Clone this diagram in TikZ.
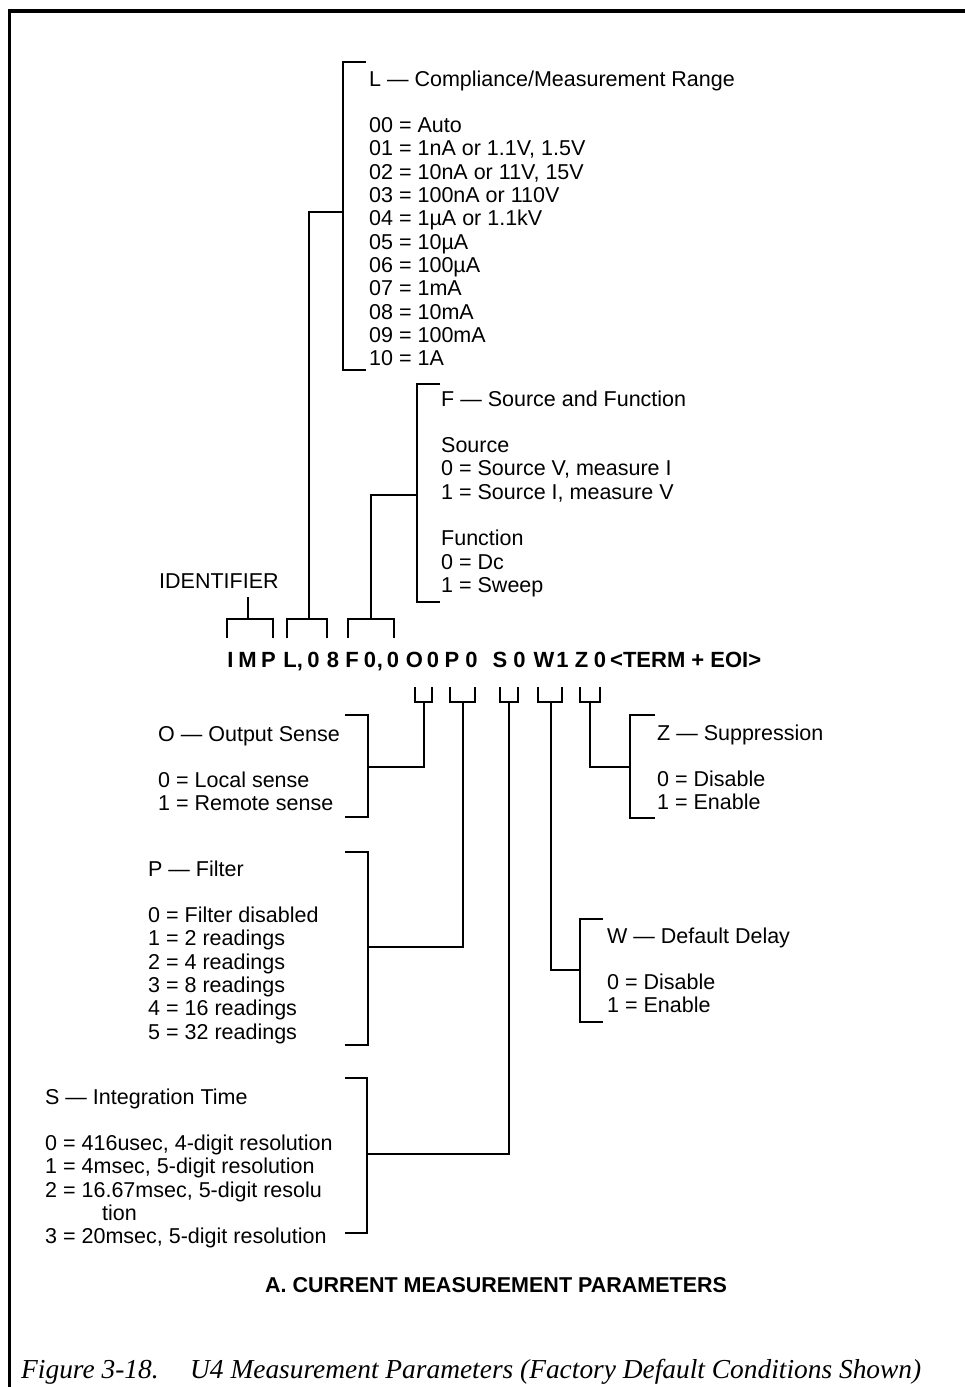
\documentclass[tikz,border=0pt]{standalone}
\usepackage{fontspec}
\setmainfont{Liberation Sans}
\newfontfamily\cmdfont{Liberation Sans}
\newfontfamily\capfont{Liberation Serif}
\newcommand\fs{\fontsize{21.5}{23.3}\selectfont}
\newcommand\cma{,}
\newcommand\lines[4]{\foreach \t [count=\i from 0] in {#4}{\node[txt] (#1-\i) at (#2,{#3+\i*23.3}) {\t};}}
\begin{document}
\begin{tikzpicture}[x=1pt,y=-1pt,
  txt/.style={font=\fs, inner sep=0pt, anchor=base west},
  cmd/.style={font=\cmdfont\fontsize{22}{22}\selectfont\bfseries, inner sep=0pt},
  br/.style={line width=2.6pt, line cap=butt, line join=miter},
  frame/.style={line width=3.3pt}]
\useasboundingbox (0,0) rectangle (965,1387);
% frame
\draw[frame] (9.5,1387) -- (9.5,11) -- (965,11);

% L block
\node[txt] (Lh) at (369,86) {L — Compliance/Measurement Range};
\lines{L}{369}{132.6}{{00 = Auto},{01 = 1nA or 1.1V, 1.5V},{02 = 10nA or 11V, 15V},{03 = 100nA or 110V},{04 = 1µA or 1.1kV},{05 = 10µA},{06 = 100µA},{07 = 1mA},{08 = 10mA},{09 = 100mA},{10 = 1A}}
% F block
\node[txt] (Fh) at (441,406) {F — Source and Function};
\lines{Fs}{441}{452.6}{{Source},{0 = Source V, measure I},{1 = Source I, measure V}}
\lines{Ff}{441}{545.8}{{Function},{0 = Dc},{1 = Sweep}}
% identifier
\node[txt] (idf) at (159,588) {IDENTIFIER};
% O block
\node[txt] (Oh) at (158,741) {O — Output Sense};
\lines{O}{158}{787.6}{{0 = Local sense},{1 = Remote sense}}
% P block
\node[txt] (Ph) at (148,876) {P — Filter};
\lines{P}{148}{922.6}{{0 = Filter disabled},{1 = 2 readings},{2 = 4 readings},{3 = 8 readings},{4 = 16 readings},{5 = 32 readings}}
% S block
\node[txt] (Sh) at (45,1104) {S — Integration Time};
\lines{S}{45}{1150.6}{{0 = 416usec, 4-digit resolution},{1 = 4msec, 5-digit resolution},{2 = 16.67msec, 5-digit resolu},{\hspace{57pt}tion},{3 = 20msec, 5-digit resolution}}
% Z block
\node[txt] (Zh) at (657,740) {Z — Suppression};
\lines{Z}{657}{786.6}{{0 = Disable},{1 = Enable}}
% W block
\node[txt] (Wh) at (607,943) {W — Default Delay};
\lines{W}{607}{989.6}{{0 = Disable},{1 = Enable}}

% command string
\foreach \c/\x [count=\i] in {I/230.5, M/247.5, P/268.5, L/290, \cma/300, 0/313.5, 8/333, F/352, 0/370, \cma/380, 0/393, O/414.5, 0/433, P/452, 0/471.5, S/500, 0/519.5, W/544, 1/562.5, Z/581.5, 0/600}
  \node[cmd, anchor=base] (c\i) at (\x,667) {\c};
\node[cmd, anchor=base west] (term) at (610,667) {<TERM + EOI>};

% upper brackets
\draw[br] (227,638) -- (227,619) -- (273,619) -- (273,638);
\draw[br] (287,638) -- (287,619) -- (327,619) -- (327,638);
\draw[br] (348,638) -- (348,619) -- (394,619) -- (394,638);
\draw[br] (248,619) -- (248,597);
% L connector and bracket
\draw[br] (309,619) |- (343,212);
\draw[br] (366,62) -| (343,370) -- (366,370);
% F connector and bracket
\draw[br] (371,619) |- (417,495);
\draw[br] (440,384) -| (417,602) -- (440,602);

% lower brackets
\draw[br] (415,687) -- (415,702) -- (432,702) -- (432,687);
\draw[br] (450,687) -- (450,702) -- (475,702) -- (475,687);
\draw[br] (500,687) -- (500,702) -- (518,702) -- (518,687);
\draw[br] (538,687) -- (538,702) -- (562,702) -- (562,687);
\draw[br] (580,687) -- (580,702) -- (600,702) -- (600,687);
% O
\draw[br] (424,702) |- (368,767);
\draw[br] (345,715) -| (368,817) -- (345,817);
% P
\draw[br] (463,702) |- (368,947);
\draw[br] (345,852) -| (368,1045) -- (345,1045);
% S
\draw[br] (509,702) |- (367,1154);
\draw[br] (345,1078) -| (367,1233) -- (345,1233);
% W
\draw[br] (551,702) |- (580,970);
\draw[br] (603,919) -| (580,1022) -- (603,1022);
% Z
\draw[br] (590,702) |- (630,767);
\draw[br] (655,715) -| (630,818) -- (655,818);

% captions
\node[font=\cmdfont\bfseries\fontsize{21.5}{21.5}\selectfont, inner sep=0pt, anchor=base west] (capA) at (265,1292) {A. CURRENT MEASUREMENT PARAMETERS};
\node[font=\capfont\itshape\fontsize{27.4}{27.4}\selectfont, inner sep=0pt, anchor=base west] (fig) at (21,1378) {Figure 3-18.};
\node[font=\capfont\itshape\fontsize{27.4}{27.4}\selectfont, inner sep=0pt, anchor=base west] (figt) at (190,1378) {U4 Measurement Parameters (Factory Default Conditions Shown)};
\end{tikzpicture}
\end{document}
